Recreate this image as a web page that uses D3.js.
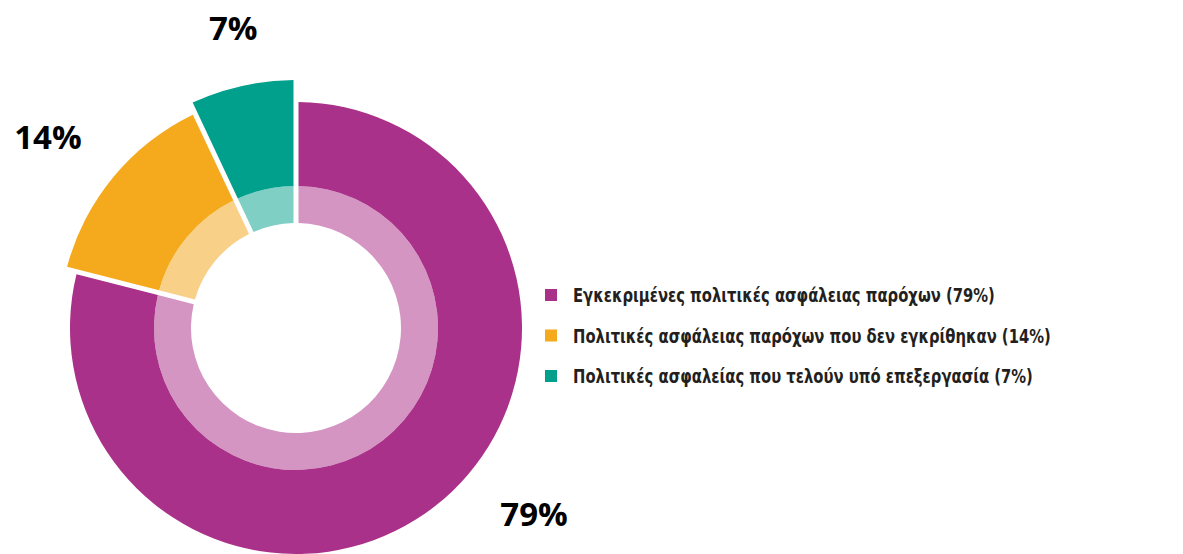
<!DOCTYPE html>
<html>
<head>
<meta charset="utf-8">
<script src="https://cdn.jsdelivr.net/npm/d3@7"></script>
<style>
  html, body { margin: 0; padding: 0; background: #fff; }
  svg { display: block; }
</style>
</head>
<body>
<div id="chart"></div>
<script>
// Data
const categories = [
  "Εγκεκριμένες πολιτικές ασφάλειας παρόχων",
  "Πολιτικές ασφάλειας παρόχων που δεν εγκρίθηκαν",
  "Πολιτικές ασφαλείας που τελούν υπό επεξεργασία"
]
const shares = [79, 14, 7]

const width = 1183
const height = 554

// Colours: outer ring (dark) and inner ring (light)
const darkColors = ["#aa3189", "#f4aa1c", "#00a08c"]
const lightColors = ["#d495c2", "#f8d088", "#7fcfc4"]

const cx = 296
const cy = 328
const holeR = 105
const ringR = 142
const outerR = [226, 237, 248] // smaller slices stick out further

// label placement: radius and how far along the slice
const labelR = [302, 313, 306]
const labelAt = [0.45, 0.46, 0.53]

const svg = d3.select("#chart")
  .append("svg")
  .attr("width", width)
  .attr("height", height)
  .attr("viewBox", [0, 0, width, height])

const g = svg.append("g").attr("transform", `translate(${cx},${cy})`)

const pie = d3.pie().sort(null).value(d => d)
const slices = pie(shares)

// Inner light ring
const innerArc = d3.arc()
  .innerRadius(holeR)
  .outerRadius(ringR)
  .padAngle(0.05)
  .padRadius(100)

g.append("g")
  .selectAll("path")
  .data(slices)
  .join("path")
  .attr("d", innerArc)
  .attr("fill", (d, i) => lightColors[i])

// Outer dark ring
const outerArc = d3.arc()
  .innerRadius(ringR)
  .outerRadius(d => outerR[d.index])
  .padAngle(0.05)
  .padRadius(100)

g.append("g")
  .selectAll("path")
  .data(slices)
  .join("path")
  .attr("d", outerArc)
  .attr("fill", (d, i) => darkColors[i])

// Percent labels
const labelAngle = d => d.startAngle + (d.endAngle - d.startAngle) * labelAt[d.index]

g.append("g")
  .selectAll("text")
  .data(slices)
  .join("text")
  .attr("x", d => labelR[d.index] * Math.sin(labelAngle(d)))
  .attr("y", d => -labelR[d.index] * Math.cos(labelAngle(d)))
  .attr("text-anchor", "middle")
  .attr("dy", "0.36em")
  .attr("font-family", "'Open Sans', sans-serif")
  .attr("font-weight", 700)
  .attr("font-size", "33px")
  .attr("fill", "#000")
  .text(d => `${d.data}%`)

// Legend
const legend = svg.append("g").attr("transform", "translate(545,295)")

const row = legend.selectAll("g")
  .data(categories)
  .join("g")
  .attr("transform", (d, i) => `translate(0,${i * 40.5})`)

row.append("rect")
  .attr("x", 0)
  .attr("y", -6)
  .attr("width", 12)
  .attr("height", 12)
  .attr("fill", (d, i) => darkColors[i])

// squeeze the text sideways to look like the condensed face in the original
row.append("text")
  .attr("transform", "translate(28,0) scale(0.74,1)")
  .attr("dy", "0.35em")
  .attr("font-family", "'DejaVu Sans', sans-serif")
  .attr("font-weight", 700)
  .attr("font-size", "20px")
  .attr("fill", "#231f20")
  .text((d, i) => `${d} (${shares[i]}%)`)
</script>
</body>
</html>
